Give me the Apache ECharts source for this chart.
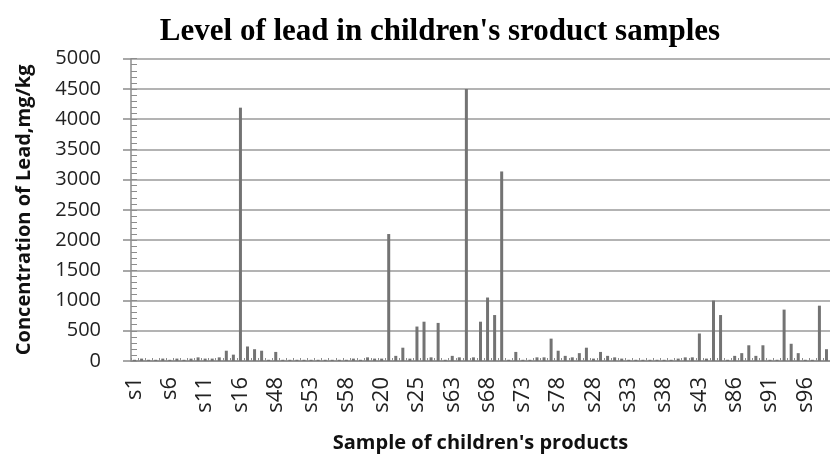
<!DOCTYPE html>
<html>
<head>
<meta charset="utf-8">
<script src="https://cdn.jsdelivr.net/npm/echarts@6/dist/echarts.min.js"></script>
<style>html,body{margin:0;padding:0;background:#fff;}#c{width:830px;height:458px;}</style>
</head>
<body>
<div id="c"></div>
<script>
var titleText = "Level of lead in children's sroduct samples";
var xName = "Sample of children's products";
var yName = "Concentration of Lead,mg/kg";

var categories = [
  "s1","s2","s3","s4","s5","s6","s7","s8","s9","s10",
  "s11","s12","s13","s14","s15","s16","s17","s18","s19",
  "s47","s48","s49","s50","s51","s52","s53","s54","s55","s56",
  "s57","s58","s59","s60","s61","s62",
  "s20","s21","s22","s23","s24","s25","s26","s27",
  "s45","s46",
  "s63","s64","s65","s66","s67","s68","s69","s70","s71","s72",
  "s73","s74","s75","s76","s77","s78","s79","s80","s81","s82",
  "s28","s29","s30","s31","s32","s33","s34","s35","s36","s37",
  "s38","s39","s40","s41","s42","s43","s44",
  "s83","s84","s85","s86","s87","s88","s89","s90","s91","s92",
  "s93","s94","s95","s96","s97","s98","s99"
];

var leadValues = [
  20, 40, 20, 20, 40, 20, 40, 20, 40, 60,
  40, 40, 60, 170, 105, 4190, 240, 195, 170, 20,
  150, 20, 20, 20, 20, 20, 20, 20, 20, 20,
  20, 40, 20, 60, 40, 40, 2100, 85, 220, 40,
  570, 650, 60, 630, 20, 85, 60, 4500, 60, 650,
  1050, 760, 3135, 20, 150, 20, 20, 60, 60, 370,
  170, 85, 60, 130, 220, 40, 150, 85, 60, 40,
  20, 20, 20, 20, 20, 20, 20, 40, 60, 60,
  455, 40, 1000, 760, 20, 85, 130, 260, 85, 260,
  20, 20, 850, 285, 130, 20, 20, 915, 195
];

var yMin = 0, yMax = 5000, yStep = 500, yMinorStep = 100;

var chart = echarts.init(document.getElementById('c'), null, {renderer: 'canvas'});
chart.setOption({
  animation: false,
  backgroundColor: '#ffffff',
  title: {
    text: titleText,
    left: 435,
    top: 11,
    textAlign: 'center',
    textStyle: {fontFamily: 'Liberation Serif', fontWeight: 'bold', fontSize: 31, color: '#000'}
  },
  grid: {left: 131, right: -1.5, top: 58.7, bottom: 96.3, containLabel: false},
  xAxis: {
    type: 'category',
    data: categories,
    name: xName,
    nameLocation: 'middle',
    nameGap: 72,
    nameTextStyle: {fontFamily: 'Open Sans', fontWeight: 'bold', fontSize: 20, color: '#111'},
    axisLine: {lineStyle: {color: '#8c8c8c', width: 1.5}},
    axisTick: {show: true, inside: true, length: 3, interval: 0, lineStyle: {color: '#8c8c8c'}},
    axisLabel: {interval: 4, rotate: 90, margin: 16, fontFamily: 'Open Sans', fontSize: 22, color: '#222'},
    splitLine: {show: false}
  },
  yAxis: [{
    type: 'value',
    min: yMin, max: yMax, interval: yStep,
    name: yName,
    nameLocation: 'middle',
    nameGap: 97,
    nameTextStyle: {fontFamily: 'Open Sans', fontWeight: 'bold', fontSize: 20, color: '#111'},
    axisLine: {show: true, lineStyle: {color: '#8c8c8c', width: 1.5}},
    axisTick: {show: true, inside: false, length: 8, lineStyle: {color: '#8c8c8c', width: 1.5}},
    axisLabel: {margin: 30, fontFamily: 'Open Sans', fontSize: 20, color: '#222',
      formatter: function (v) { return String(v); }},
    splitLine: {show: true, lineStyle: {color: '#9a9a9a', width: 1.5}}
  }, {
    type: 'value',
    position: 'left',
    min: yMin, max: yMax, interval: yMinorStep,
    axisLine: {show: false},
    axisTick: {show: true, inside: true, length: 6, lineStyle: {color: '#8c8c8c', width: 1}},
    axisLabel: {show: false},
    splitLine: {show: false}
  }],
  series: [{
    type: 'bar',
    data: leadValues,
    barWidth: 3,
    yAxisIndex: 0,
    itemStyle: {color: '#737373'}
  }]
});
</script>
</body>
</html>
